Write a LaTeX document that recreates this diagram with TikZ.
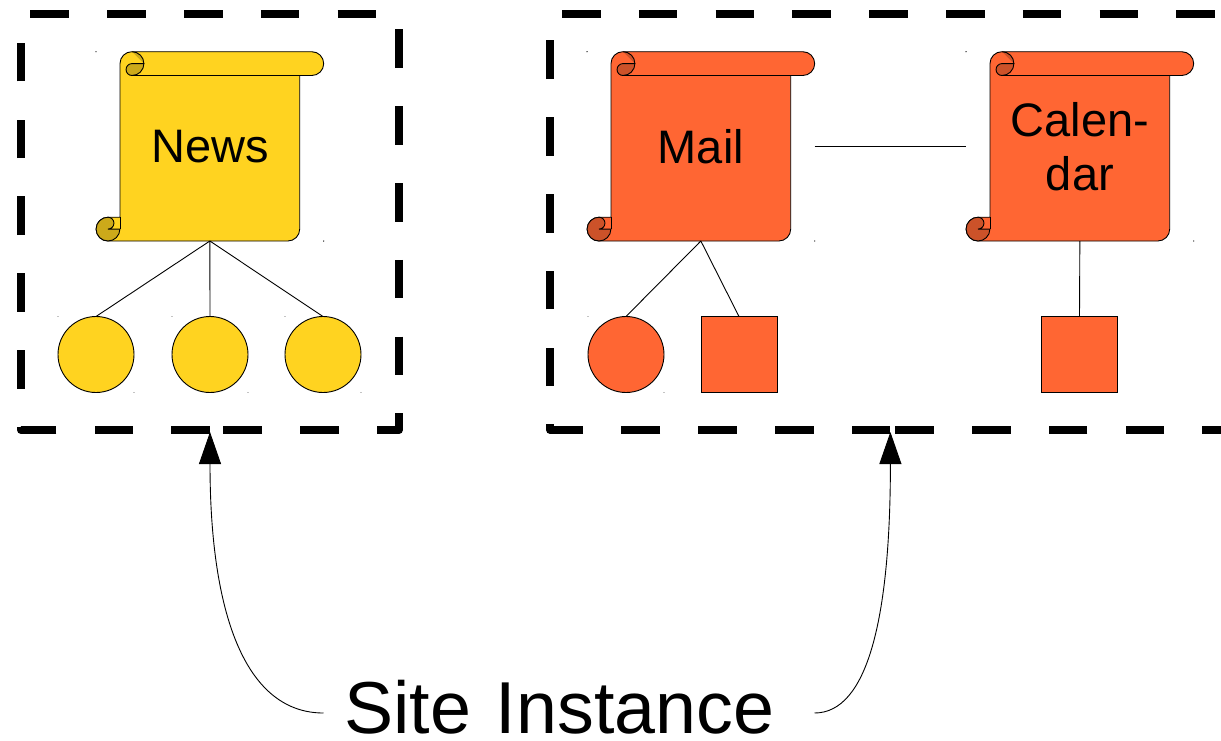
\documentclass[tikz,border=0pt]{standalone}
\usepackage{fontspec}
\setmainfont{Liberation Sans}
\usetikzlibrary{arrows.meta}
\definecolor{newsyellow}{HTML}{FFD320}
\definecolor{newsdark}{HTML}{CCA91A}
\definecolor{mailorange}{HTML}{FF6633}
\definecolor{maildark}{HTML}{CC5229}
\tikzset{
    sitebox/.style={black,line width=7.8pt,line join=round,dash pattern=on 38.6pt off 38.2pt},
    thinline/.style={black,line width=0.9pt},
    scrollbox/.style={minimum width=227.7pt,minimum height=189.3pt,inner sep=0pt,outer sep=0pt,align=center,font=\fontsize{47}{54}\selectfont},
    roundpage/.style={circle,draw=black,line width=0.9pt,minimum size=76pt,inner sep=0pt,outer sep=0pt},
    squarepage/.style={rectangle,draw=black,line width=0.9pt,minimum size=76pt,inner sep=0pt,outer sep=0pt},
    sitetext/.style={text width=449pt,inner xsep=21pt,inner ysep=0pt,outer sep=0pt,align=left,text height=45pt,text depth=5pt,font=\fontsize{73.6}{80}\selectfont}
}
\newcommand{\scrollshape}[3]{
    \begin{scope}[shift={(#1,0)}]
        \draw[thinline,fill=#2](120,-63.6) arc[start angle=180,end angle=90,radius=11.9] -- (311.8,-51.7) arc[start angle=90,end angle=-90,radius=11.9] -- (299.7,-75.5) -- (299.7,-229.1) arc[start angle=0,end angle=-90,radius=11.9] -- (108,-241) arc[start angle=270,end angle=90,radius=11.9] -- (120,-217.2) -- cycle;
        \fill[#3](132,-51.7) arc[start angle=90,end angle=0,radius=11.9] -- cycle;
        \draw[thinline](132,-51.7) arc[start angle=90,end angle=0,radius=11.9];
        \draw[thinline,fill=#3](143.9,-63.6) arc[start angle=0,end angle=-90,radius=11.9] arc[start angle=270,end angle=90,radius=5.95] -- cycle;
        \draw[thinline](132,-75.5) -- (299.7,-75.5);
        \draw[thinline,fill=#3](108,-217.2) arc[start angle=90,end angle=360,radius=11.9] -- (108,-229.1) arc[start angle=-90,end angle=90,radius=5.95] -- cycle;
        \draw[thinline](120,-217.2) -- (120,-229.1);
    \end{scope}
}

\begin{document}
\begin{tikzpicture}[x=1pt,y=1pt]
            \clip (0,0) rectangle (1221,-740);

            \draw[sitebox](210,-430) -- (21,-430) -- (21,-14) -- (399,-14) -- (399,-430) -- cycle;
            \draw[sitebox](890.4,-430) -- (550.2,-430) -- (550.2,-14) -- (1269.5,-14) -- (1269.5,-430) -- cycle;

            \scrollshape{0}{newsyellow}{newsdark}
            \scrollshape{491}{mailorange}{maildark}
            \scrollshape{870}{mailorange}{maildark}

            \node[scrollbox] (news) at (209.85,-146.35){News};
            \node[scrollbox] (mail) at (700.85,-146.35){Mail};
            \node[scrollbox] (calendar) at (1079.85,-146.35){Calen-\\dar};

            \node[roundpage,fill=newsyellow] (newsa) at (96,-354.5){};
            \node[roundpage,fill=newsyellow] (newsb) at (210,-354.5){};
            \node[roundpage,fill=newsyellow] (newsc) at (323,-354.5){};
            \node[roundpage,fill=mailorange] (maila) at (626,-354.5){};
            \node[squarepage,fill=mailorange] (mailb) at (739,-354.5){};
            \node[squarepage,fill=mailorange] (calendara) at (1079.5,-354.5){};

            \draw[thinline](news.south) -- (newsa.north);
            \draw[thinline](news.south) -- (newsb.north);
            \draw[thinline](news.south) -- (newsc.north);
            \draw[thinline](mail.south) -- (maila.north);
            \draw[thinline](mail.south) -- (mailb.north);
            \draw[thinline](calendar.south) -- (calendara.north);
            \draw[thinline](mail.east) -- (calendar.west);

            \fill[black](news.north west) circle (0.7);
            \fill[black](news.south east) circle (0.7);
            \fill[black](mail.north west) circle (0.7);
            \fill[black](mail.south east) circle (0.7);
            \fill[black](calendar.north west) circle (0.7);
            \fill[black](calendar.south east) circle (0.7);
            \fill[black](newsa.west |- newsa.north) circle (0.4);
            \fill[black](newsa.east |- newsa.south) circle (0.4);
            \fill[black](newsb.west |- newsb.north) circle (0.4);
            \fill[black](newsb.east |- newsb.south) circle (0.4);
            \fill[black](newsc.west |- newsc.north) circle (0.4);
            \fill[black](newsc.east |- newsc.south) circle (0.4);
            \fill[black](maila.west |- maila.north) circle (0.4);
            \fill[black](maila.east |- maila.south) circle (0.4);

            \node[sitetext] (sitelabel) at (569,-713){Site Instance};
            \coordinate (newstip) at (210,-432);
            \coordinate (mailtip) at (890.4,-432);
            \draw[thinline,-{Triangle[length=32pt,width=22pt]}](sitelabel.west) .. controls (248,-713) and (210,-620) .. (newstip);
            \draw[thinline,-{Triangle[length=32pt,width=22pt]}](sitelabel.east) .. controls (867,-713) and (890.4,-620) .. (mailtip);
        \end{tikzpicture}
\end{document}
